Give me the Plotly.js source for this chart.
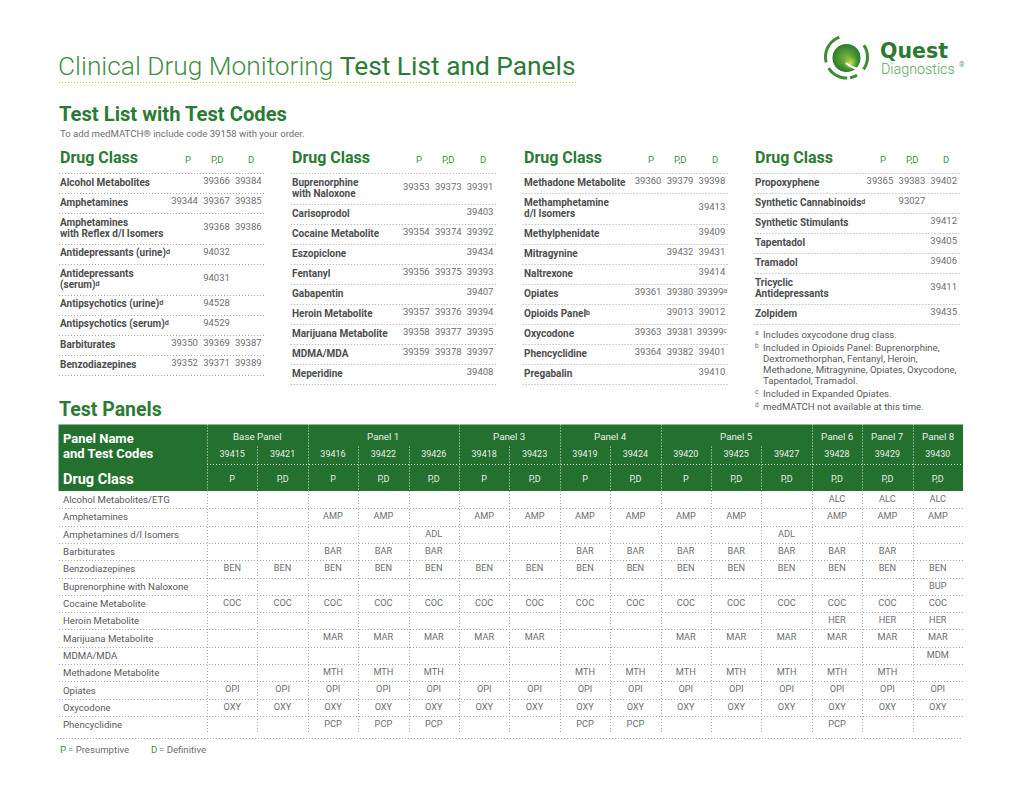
<!DOCTYPE html>
<html><head><meta charset="utf-8">
<script src="https://cdn.plot.ly/plotly-3.0.1.min.js"></script>
<style>html,body{margin:0;padding:0;background:#fff}</style>
</head><body><div id="chart" style="width:1020px;height:788px"></div>
<script>
// ---------------- DATA ----------------
const pageTitleLight = 'Clinical Drug Monitoring';
const pageTitleBold = 'Test List and Panels';
const listHeading = 'Test List with Test Codes';
const listNote = 'To add medMATCH® include code 39158 with your order.';
const listColumnHeader = 'Drug Class';
const listCodeHeaders = ['P', 'P,D', 'D'];

const listNames1 = ['Alcohol Metabolites', 'Amphetamines', 'Amphetamines|with Reflex d/l Isomers', 'Antidepressants (urine)^d', 'Antidepressants|(serum)^d', 'Antipsychotics (urine)^d', 'Antipsychotics (serum)^d', 'Barbiturates', 'Benzodiazepines'];
const listP1  = ['', '39344', '', '', '', '', '', '39350', '39352'];
const listPD1 = ['39366', '39367', '39368', '94032', '94031', '94528', '94529', '39369', '39371'];
const listD1  = ['39384', '39385', '39386', '', '', '', '', '39387', '39389'];

const listNames2 = ['Buprenorphine|with Naloxone', 'Carisoprodol', 'Cocaine Metabolite', 'Eszopiclone', 'Fentanyl', 'Gabapentin', 'Heroin Metabolite', 'Marijuana Metabolite', 'MDMA/MDA', 'Meperidine'];
const listP2  = ['39353', '', '39354', '', '39356', '', '39357', '39358', '39359', ''];
const listPD2 = ['39373', '', '39374', '', '39375', '', '39376', '39377', '39378', ''];
const listD2  = ['39391', '39403', '39392', '39434', '39393', '39407', '39394', '39395', '39397', '39408'];

const listNames3 = ['Methadone Metabolite', 'Methamphetamine|d/l Isomers', 'Methylphenidate', 'Mitragynine', 'Naltrexone', 'Opiates', 'Opioids Panel^b', 'Oxycodone', 'Phencyclidine', 'Pregabalin'];
const listP3  = ['39360', '', '', '', '', '39361', '', '39363', '39364', ''];
const listPD3 = ['39379', '', '', '39432', '', '39380', '39013', '39381', '39382', ''];
const listD3  = ['39398', '39413', '39409', '39431', '39414', '39399^a', '39012', '39399^c', '39401', '39410'];

const listNames4 = ['Propoxyphene', 'Synthetic Cannabinoids^d', 'Synthetic Stimulants', 'Tapentadol', 'Tramadol', 'Tricyclic|Antidepressants', 'Zolpidem'];
const listP4  = ['39365', '', '', '', '', '', ''];
const listPD4 = ['39383', '93027', '', '', '', '', ''];
const listD4  = ['39402', '', '39412', '39405', '39406', '39411', '39435'];

const footnoteMarks = ['a', 'b', 'c', 'd'];
const footnoteTexts = [
  'Includes oxycodone drug class.',
  'Included in Opioids Panel: Buprenorphine,|Dextromethorphan, Fentanyl, Heroin,|Methadone, Mitragynine, Opiates, Oxycodone,|Tapentadol, Tramadol.',
  'Included in Expanded Opiates.',
  'medMATCH not available at this time.'
];

const panelHeading = 'Test Panels';
const panelGroups = ['Base Panel', 'Panel 1', 'Panel 3', 'Panel 4', 'Panel 5', 'Panel 6', 'Panel 7', 'Panel 8'];
const panelGroupSizes = [2, 3, 2, 2, 3, 1, 1, 1];
const panelCodes = ['39415', '39421', '39416', '39422', '39426', '39418', '39423', '39419', '39424', '39420', '39425', '39427', '39428', '39429', '39430'];
const panelTypes = ['P', 'P,D', 'P', 'P,D', 'P,D', 'P', 'P,D', 'P', 'P,D', 'P', 'P,D', 'P,D', 'P,D', 'P,D', 'P,D'];
const panelDrugs = ['Alcohol Metabolites/ETG', 'Amphetamines', 'Amphetamines d/l Isomers', 'Barbiturates', 'Benzodiazepines', 'Buprenorphine with Naloxone', 'Cocaine Metabolite', 'Heroin Metabolite', 'Marijuana Metabolite', 'MDMA/MDA', 'Methadone Metabolite', 'Opiates', 'Oxycodone', 'Phencyclidine'];
const panelAbbr = ['ALC', 'AMP', 'ADL', 'BAR', 'BEN', 'BUP', 'COC', 'HER', 'MAR', 'MDM', 'MTH', 'OPI', 'OXY', 'PCP'];
const panelIncluded = [
  '000000000000111',
  '001101111110111',
  '000010000001000',
  '001110011111110',
  '111111111111111',
  '000000000000001',
  '111111111111111',
  '000000000000111',
  '001111100111111',
  '000000000000001',
  '001110011111110',
  '111111111111111',
  '111111111111111',
  '001110011000100'
];
const legendItems = [['P', 'Presumptive'], ['D', 'Definitive']];

// ---------------- STYLE / LAYOUT HELPERS ----------------
const FONT = 'Roboto, "Liberation Sans", sans-serif';
const GREEN = '#2b7a35';
const GREEN_LIGHT = '#3f8f45';
const BAND = '#24702e';
const LABEL = '#4d4d4f';
const CODE = '#6d6e71';
const DOT = '#a7a9ac';
const DOTDASH = '1px,2px';

const annotations = [];
const shapes = [];
const traces = [];
const SUPS = { a: 'ᵃ', b: 'ᵇ', c: 'ᶜ', d: 'ᵈ' };
const sup = s => s.replace(/\^(\w)/g, (m, l) => SUPS[l] || l);

function T(x, y, text, size, color, o = {}) {
  annotations.push({
    x, y, xref: 'x', yref: 'y', text, showarrow: false,
    xanchor: o.anchor || 'left', yanchor: 'middle', borderpad: 0,
    font: { family: o.family || FONT, size, color, weight: o.weight || 400 }
  });
}
const px = v => Math.round(v) + 0.5;
function HL(x0, x1, y, color, dash) {
  shapes.push({ type: 'line', xref: 'x', yref: 'y', x0, x1, y0: px(y), y1: px(y), line: { color, width: 1, dash: dash || DOTDASH } });
}
function VL(x, y0, y1, color, dash) {
  shapes.push({ type: 'line', xref: 'x', yref: 'y', x0: px(x), x1: px(x), y0, y1, line: { color, width: 1, dash: dash || DOTDASH } });
}
function textTrace(xs, ys, texts, size, color, weight) {
  traces.push({ type: 'scatter', mode: 'text', x: xs, y: ys, text: texts, textposition: 'middle center',
    textfont: { family: FONT, size, color, weight: weight || 400 }, hoverinfo: 'skip', showlegend: false, cliponaxis: false });
}

// ---------------- TITLE ----------------
T(57, 66, pageTitleLight + ' <span style="font-weight:400;color:' + GREEN + '">' + pageTitleBold + '</span>', 26.3, GREEN_LIGHT, { weight: 300 });
HL(59, 577, 82, '#c4d600', '1px,2px');

// logo
function ring(cx, cy, r0, r1, a0, a1) {
  let s = ''; const n = 30;
  for (let i = 0; i <= n; i++) { const a = (a0 + (a1 - a0) * i / n) * Math.PI / 180; s += (i ? 'L' : 'M') + (cx + r1 * Math.cos(a)).toFixed(2) + ',' + (cy - r1 * Math.sin(a)).toFixed(2); }
  for (let i = n; i >= 0; i--) { const a = (a0 + (a1 - a0) * i / n) * Math.PI / 180; s += 'L' + (cx + r0 * Math.cos(a)).toFixed(2) + ',' + (cy - r0 * Math.sin(a)).toFixed(2); }
  return s + 'Z';
}
const LCX = 846.5, LCY = 57;
[[110, 195], [212, 272], [280, 300], [-36, 34]].forEach(([a0, a1]) => {
  shapes.push({ type: 'path', xref: 'x', yref: 'y', path: ring(LCX, LCY, 19.5, 22.5, a0, a1), fillcolor: '#3d8c35', line: { width: 0 } });
});
traces.push({ type: 'scatter', mode: 'markers', x: [LCX], y: [LCY + 1], hoverinfo: 'skip',
  marker: { size: 28, color: '#2b7a2e', line: { width: 0 }, gradient: { type: 'radial', color: '#7db83a' } } });
traces.push({ type: 'scatter', mode: 'markers', x: [LCX + 4], y: [LCY + 6], hoverinfo: 'skip',
  marker: { size: 16, color: 'rgba(150,195,50,0)', line: { width: 0 }, gradient: { type: 'radial', color: '#d6e35a' } } });
shapes.push({ type: 'path', xref: 'x', yref: 'y', path: 'M846,63 Q852,68 859,69', line: { color: '#ffffff', width: 2.2 } });
T(879, 51, 'Quest', 20.5, '#2a7a31', { family: '"DejaVu Sans", sans-serif', weight: 700 });
T(880, 68.5, 'Diagnostics', 14.3, '#5aa55c', { weight: 300 });
T(957.5, 64.5, '®', 7, '#5aa55c');

// ---------------- TEST LIST ----------------
T(58, 114, listHeading, 20.2, GREEN, { weight: 700 });
T(59, 133.5, listNote, 9.6, CODE);

const listCols = [
  [listNames1, listP1, listPD1, listD1],
  [listNames2, listP2, listPD2, listD2],
  [listNames3, listP3, listPD3, listD3],
  [listNames4, listP4, listPD4, listD4]
];
const COLX0 = 59, COLSTEP = 231.8, COLW = 206;
const codeOff = [125.5, 157.5, 189.3];
const headOff = [128.5, 158, 192];
const HEAD_LINE = 173, ROW1 = 20, ROW2 = 31;
const cx = [], cy = [], ct = [];
listCols.forEach((col, ci) => {
  const x0 = COLX0 + ci * COLSTEP;
  T(x0, 157, listColumnHeader, 16, GREEN, { weight: 700 });
  listCodeHeaders.forEach((h, k) => T(x0 + headOff[k], 159, h, 9.5, GREEN_LIGHT, { anchor: 'center' }));
  HL(x0, x0 + COLW, HEAD_LINE, DOT);
  let top = HEAD_LINE;
  col[0].forEach((name, r) => {
    const lines = name.split('|');
    const h = lines.length > 1 ? ROW2 : ROW1;
    T(x0, top + 9, sup(lines[0]), 10, LABEL, { weight: 700 });
    if (lines.length > 1) T(x0, top + 20.5, sup(lines[1]), 10, LABEL, { weight: 700 });
    const yc = lines.length > 1 ? top + 14.7 : top + 9;
    [col[1][r], col[2][r], col[3][r]].forEach((c, k) => {
      if (c) { cx.push(x0 + codeOff[k]); cy.push(yc); ct.push(sup(c)); }
    });
    top += h;
    HL(x0, x0 + COLW, top, DOT);
  });
});
textTrace(cx, cy, ct, 9.5, CODE);

// footnotes
const FN_X = 754.3;
let fy = 334.5;
footnoteMarks.forEach((m, i) => {
  T(FN_X, fy - 2, m, 6.5, CODE);
  const lines = footnoteTexts[i].split('|');
  lines.forEach((ln) => { T(FN_X + 7.5, fy, ln, 9.6, '#58595b'); fy += 11; });
  fy += 2;
});

// ---------------- TEST PANELS ----------------
T(58, 409.5, panelHeading, 19.5, GREEN, { weight: 700 });
const TX0 = 59, TX1 = 963, LABW = 148, BAND_TOP = 424.5, BAND_BOT = 491;
const NCOL = panelCodes.length;
const colW = (TX1 - TX0 - LABW) / NCOL;
const colLeft = k => TX0 + LABW + k * colW;
const colMid = k => colLeft(k) + colW / 2;
shapes.push({ type: 'rect', xref: 'x', yref: 'y', x0: TX0 - 0.5, x1: TX1, y0: BAND_TOP, y1: BAND_BOT, fillcolor: BAND, line: { width: 0 }, layer: 'below' });
T(61.5, 438.5, 'Panel Name', 13, '#ffffff', { weight: 700 });
T(61.5, 453.5, 'and Test Codes', 13, '#ffffff', { weight: 700 });
T(61.5, 479.5, 'Drug Class', 14.5, '#ffffff', { weight: 700 });

const ROW_TOP = BAND_BOT, ROWH = 17.31;
const BODY_BOT = ROW_TOP + ROWH * panelDrugs.length;
const HDR_WHITE = 'rgba(255,255,255,0.85)';
let start = 0;
const groupStarts = [];
panelGroups.forEach((g, gi) => {
  const n = panelGroupSizes[gi];
  const mid = (colLeft(start) + colLeft(start + n)) / 2;
  T(mid, 436, g, 9.8, '#e6efe6', { anchor: 'center' });
  groupStarts.push(start);
  start += n;
});
for (let k = 0; k < NCOL; k++) {
  const isGroup = groupStarts.indexOf(k) >= 0;
  const x = colLeft(k);
  VL(x, isGroup ? BAND_TOP : 446.5, BAND_BOT, HDR_WHITE);
  VL(x, BAND_BOT, BODY_BOT, DOT);
}
HL(colLeft(0), TX1, 463.5, HDR_WHITE);
textTrace(panelCodes.map((c, k) => colMid(k)), panelCodes.map(() => 454.5), panelCodes, 9, '#e6efe6');
textTrace(panelTypes.map((c, k) => colMid(k)), panelTypes.map(() => 479.5), panelTypes, 9, '#e6efe6');

// body
const bx = [], by = [], bt = [];
panelDrugs.forEach((d, r) => {
  const yc = ROW_TOP + ROWH * (r + 0.5);
  T(61.5, yc, d, 9.6, '#58595b');
  for (let k = 0; k < NCOL; k++) {
    if (panelIncluded[r][k] === '1') { bx.push(colMid(k)); by.push(yc); bt.push(panelAbbr[r]); }
  }
  if (r < panelDrugs.length - 1) HL(TX0, TX1, ROW_TOP + ROWH * (r + 1), DOT);
});
HL(TX0 - 2, TX1, 738, DOT);
textTrace(bx, by, bt, 9.2, CODE);

// legend
let lx = 59;
legendItems.forEach(([k, v]) => {
  T(lx, 749.5, k, 9.6, GREEN_LIGHT);
  T(lx + 8, 749.5, '= ' + v, 9.6, CODE);
  lx += 91;
});

const layout = {
  width: 1020, height: 788, margin: { l: 0, r: 0, t: 0, b: 0, pad: 0 },
  paper_bgcolor: '#ffffff', plot_bgcolor: '#ffffff', showlegend: false,
  xaxis: { range: [0, 1020], visible: false, fixedrange: true },
  yaxis: { range: [788, 0], visible: false, fixedrange: true },
  annotations, shapes, hovermode: false
};
Plotly.newPlot('chart', traces, layout, { staticPlot: true, displayModeBar: false });
</script>
</body></html>
